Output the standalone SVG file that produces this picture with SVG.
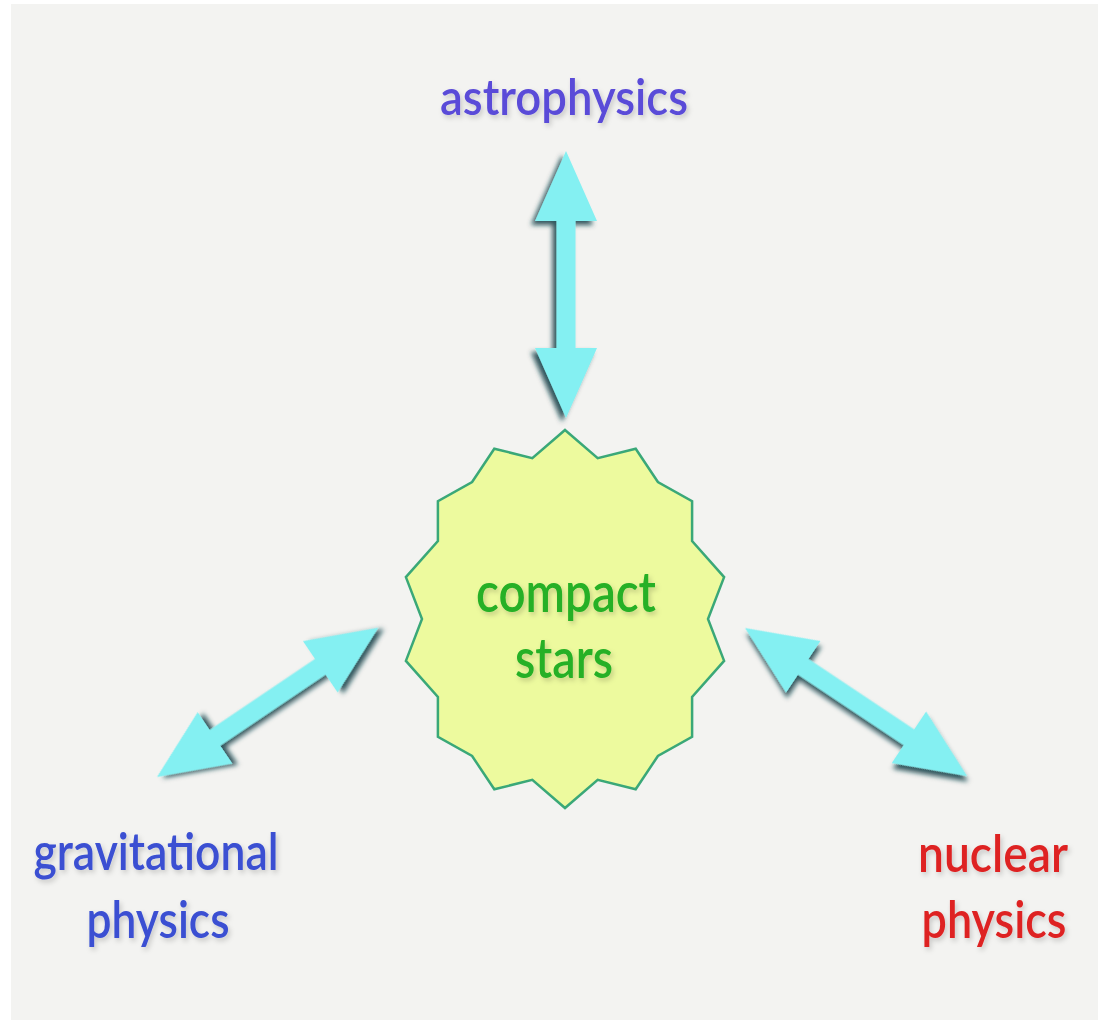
<svg xmlns="http://www.w3.org/2000/svg" width="1098" height="1022" viewBox="0 0 1098 1022">
<style>
.lbl{font-family:Lato,"Open Sans","Liberation Sans",sans-serif;text-anchor:middle;font-weight:600;}
.arrow{fill:#84f0f2;filter:url(#ash);}
</style>
<defs>
<filter id="ash" x="-30%" y="-30%" width="160%" height="160%">
<feDropShadow dx="4" dy="4" stdDeviation="2.5" flood-color="#0b3c44" flood-opacity="0.85"/>
</filter>
<filter id="tsh" x="-10%" y="-20%" width="120%" height="140%">
<feDropShadow dx="2" dy="3" stdDeviation="2.5" flood-color="#000" flood-opacity="0.18"/>
</filter>
<path id="dbl" d="M0,0 L70,-31 L70,-9.5 L197,-9.5 L197,-31 L267,0 L197,31 L197,9.5 L70,9.5 L70,31 Z"/>
</defs>
<rect x="0" y="0" width="1098" height="1022" fill="#ffffff"/>
<rect x="11" y="4" width="1087" height="1016" fill="#f3f3f1"/>
<g id="connectors">
<use href="#dbl" class="arrow" transform="translate(566,151) rotate(90)"/>
<use href="#dbl" class="arrow" transform="translate(157,777) rotate(-34)"/>
<use href="#dbl" class="arrow" transform="translate(745,628) rotate(33.7)"/>
</g>
<g id="compact-stars">
<polygon fill="#edfa9e" stroke="#3aa878" stroke-width="2.5" stroke-linejoin="miter" points="565.0,430.0 597.7,458.1 635.7,448.7 657.9,482.0 692.1,501.2 692.1,541.1 724.1,577.1 708.0,619.0 724.1,660.9 692.1,696.9 692.1,736.8 657.9,756.0 635.7,789.3 597.7,779.9 565.0,808.0 532.3,779.9 494.3,789.3 472.1,756.0 437.9,736.8 437.9,696.9 405.9,660.9 422.0,619.0 405.9,577.1 437.9,541.1 437.9,501.2 472.1,482.0 494.3,448.7 532.3,458.1"/>
<g filter="url(#tsh)" fill="#25b025" font-size="56" class="lbl">
<text x="566" y="612" class="lbl" textLength="180" lengthAdjust="spacingAndGlyphs">compact</text>
<text x="564" y="678" class="lbl" textLength="98" lengthAdjust="spacingAndGlyphs">stars</text>
</g>
</g>
<g id="astrophysics" filter="url(#tsh)">
<text x="564" y="115" class="lbl" font-size="50" fill="#5a4bd8" textLength="248" lengthAdjust="spacingAndGlyphs">astrophysics</text>
</g>
<g id="gravitational-physics" filter="url(#tsh)" fill="#3a50d2">
<text x="156" y="870" class="lbl" font-size="52" textLength="245" lengthAdjust="spacingAndGlyphs">gravitational</text>
<text x="158" y="938" class="lbl" font-size="52" textLength="143" lengthAdjust="spacingAndGlyphs">physics</text>
</g>
<g id="nuclear-physics" filter="url(#tsh)" fill="#de2424">
<text x="993" y="872" class="lbl" font-size="52" textLength="150" lengthAdjust="spacingAndGlyphs">nuclear</text>
<text x="994" y="938" class="lbl" font-size="52" textLength="145" lengthAdjust="spacingAndGlyphs">physics</text>
</g>
</svg>
